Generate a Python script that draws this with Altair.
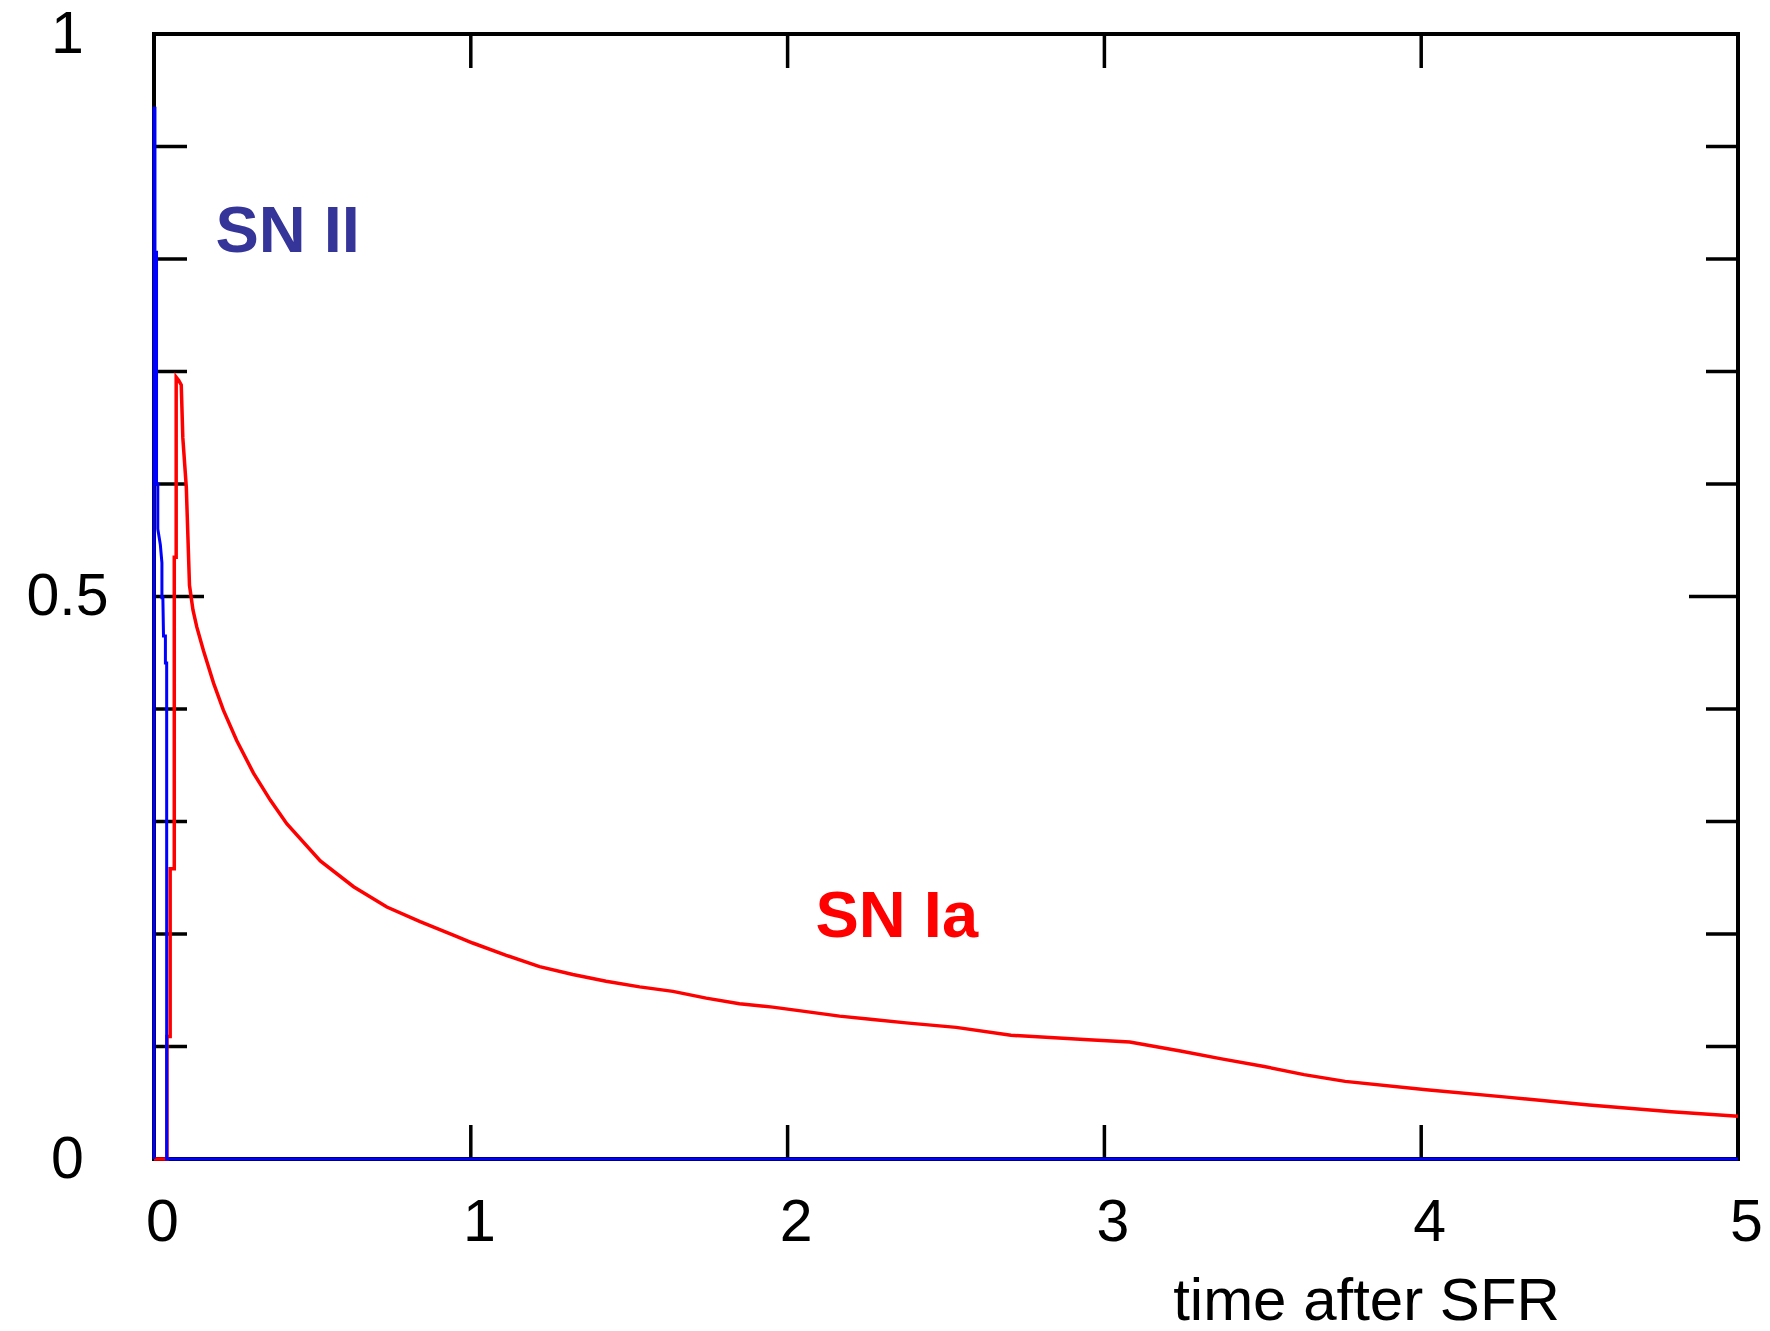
import altair as alt
import pandas as pd

# ---- data ----
# SN Ia rate (red)
ia_t = [0.0, 0.041, 0.041, 0.051, 0.051, 0.064, 0.064, 0.070, 0.070, 0.078, 0.086,
        0.091, 0.102, 0.112, 0.123, 0.135, 0.156, 0.188, 0.219, 0.261, 0.314, 0.367,
        0.419, 0.525, 0.630, 0.735, 0.840, 0.945, 1.006, 1.112, 1.217, 1.322, 1.427,
        1.533, 1.638, 1.743, 1.848, 1.953, 2.059, 2.164, 2.269, 2.374, 2.532, 2.705,
        2.95, 3.08, 3.24, 3.37, 3.50, 3.63, 3.76, 4.016, 4.27, 4.53, 4.79, 5.0]
ia_v = [0.0, 0.0, 0.109, 0.109, 0.258, 0.258, 0.535, 0.535, 0.695, 0.692, 0.688,
        0.641, 0.597, 0.510, 0.488, 0.473, 0.452, 0.423, 0.399, 0.372, 0.343, 0.319,
        0.298, 0.265, 0.242, 0.224, 0.211, 0.199, 0.192, 0.181, 0.171, 0.164, 0.158,
        0.153, 0.149, 0.143, 0.138, 0.135, 0.131, 0.127, 0.124, 0.121, 0.117, 0.110,
        0.106, 0.104, 0.096, 0.089, 0.0825, 0.075, 0.069, 0.0615, 0.055, 0.048,
        0.042, 0.038]

# SN II rate (blue)
ii_t = [0.0, 0.0, 0.003, 0.003, 0.008, 0.008, 0.012, 0.012, 0.020, 0.025, 0.025,
        0.028, 0.030, 0.036, 0.036, 0.040, 0.040, 5.0]
ii_v = [0.0, 0.934, 0.934, 0.806, 0.806, 0.600, 0.600, 0.560, 0.546, 0.530, 0.499,
        0.499, 0.465, 0.465, 0.441, 0.441, 0.0, 0.0]

x_label_vals = [0, 1, 2, 3, 4, 5]
y_label_vals = [0, 0.5, 1]
y_minor_ticks = [0.1, 0.2, 0.3, 0.4, 0.6, 0.7, 0.8, 0.9]
y_major_ticks = [0.5]

labels = ["SN II", "SN Ia"]
label_t = [0.194, 2.088]
label_v = [0.806, 0.197]
label_colors = ["#353599", "#ff0000"]

# ---- chart ----
W, H = 1584, 1125
FONT = "Liberation Sans"

df_ia = pd.DataFrame({"t": ia_t, "v": ia_v, "i": range(len(ia_t))})
df_ii = pd.DataFrame({"t": ii_t, "v": ii_v, "i": range(len(ii_t))})
df_xt = pd.DataFrame({"t": x_label_vals})
df_ymin = pd.DataFrame({"v": y_minor_ticks})
df_ymaj = pd.DataFrame({"v": y_major_ticks})

xs = alt.Scale(domain=[0, 5], nice=False, zero=False)
ys = alt.Scale(domain=[0, 1], nice=False, zero=False)

xaxis = alt.Axis(values=x_label_vals, ticks=False, domain=False, grid=False,
                 labelFontSize=59, labelPadding=34, labelOffset=8, labelFlush=False,
                 labelOverlap=False, labelColor="black", labelFont=FONT,
                 title="time after SFR", titleX=1212, titleY=160,
                 titleAlign="center", titleBaseline="alphabetic",
                 titleFontSize=60, titleFontWeight="normal", titleFont=FONT,
                 titleColor="black")
yaxis = alt.Axis(values=y_label_vals, ticks=False, domain=False, grid=False,
                 format="~g", labelFontSize=59, labelPadding=87, labelAlign="center",
                 labelBaseline="middle", labelFlush=False, labelOverlap=False,
                 labelColor="black", labelFont=FONT, title=None)

X = lambda: alt.X("t:Q", scale=xs, axis=xaxis)
Y = lambda: alt.Y("v:Q", scale=ys, axis=yaxis)

red = alt.Chart(df_ia).mark_line(color="#ff0000", strokeWidth=3.5).encode(
    x=X(), y=Y(), order="i:Q")
blue = alt.Chart(df_ii).mark_line(color="#0000ff", strokeWidth=3).encode(
    x=X(), y=Y(), order="i:Q")

tick_style = dict(color="black", strokeWidth=3.5)
xt_bottom = alt.Chart(df_xt).mark_rule(**tick_style).encode(
    x=X(), y=alt.value(H), y2=alt.value(H - 34))
xt_top = alt.Chart(df_xt).mark_rule(**tick_style).encode(
    x=X(), y=alt.value(0), y2=alt.value(34))
yt_left = alt.Chart(df_ymin).mark_rule(**tick_style).encode(
    y=Y(), x=alt.value(0), x2=alt.value(33))
yt_right = alt.Chart(df_ymin).mark_rule(**tick_style).encode(
    y=Y(), x=alt.value(W), x2=alt.value(W - 32))
yM_left = alt.Chart(df_ymaj).mark_rule(**tick_style).encode(
    y=Y(), x=alt.value(0), x2=alt.value(50))
yM_right = alt.Chart(df_ymaj).mark_rule(**tick_style).encode(
    y=Y(), x=alt.value(W), x2=alt.value(W - 49))

df_lab = pd.DataFrame({"t": label_t, "v": label_v, "label": labels, "c": label_colors})
texts = alt.Chart(df_lab).mark_text(font=FONT, fontSize=65, fontWeight="bold",
                                    align="left", baseline="alphabetic").encode(
    x=X(), y=Y(), text="label:N", color=alt.Color("c:N", scale=None))

chart = alt.layer(xt_bottom, xt_top, yt_left, yt_right, yM_left, yM_right,
                  red, blue, texts).properties(
    width=W, height=H,
    padding={"left": 154, "top": 34, "right": 32, "bottom": 172},
    autosize=alt.AutoSizeParams(type="none"),
    background="white",
).configure_view(stroke="black", strokeWidth=4)

chart.save("out.html", embed_options={"renderer": "svg", "actions": False})
